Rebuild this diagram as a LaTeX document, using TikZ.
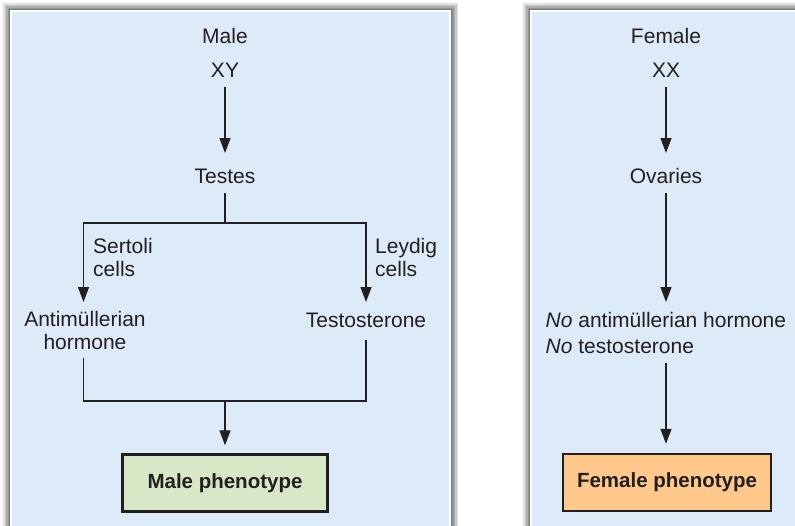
\documentclass[tikz,border=0pt]{standalone}
\usepackage{fontspec}
\setmainfont{Liberation Sans}
\usetikzlibrary{arrows.meta}
\definecolor{panelbg}{RGB}{221,234,247}
\definecolor{ink}{RGB}{35,31,32}
\definecolor{malefill}{RGB}{215,232,199}
\definecolor{femalefill}{RGB}{253,200,138}
\begin{document}
\begin{tikzpicture}[x=1pt,y=-1pt,
  lbl/.style={inner sep=0pt, font=\fontsize{21}{23}\selectfont, text=ink},
  ln/.style={line width=1.3pt, draw=ink},
  arr/.style={ln, -{Triangle[length=15pt,width=11pt]}},
  pheno/.style={draw=ink, line width=2.4pt, minimum width=205pt, minimum height=57pt,
    inner sep=0pt, font=\fontsize{20.5}{24}\selectfont\bfseries, text=ink}]
\useasboundingbox (0,0) rectangle (795,525);
\clip (0,0) rectangle (795,525);
% panels
\foreach \d/\c in {0/12,1.5/22,3/32,4.5/42,6/52} {
  \draw[line width=1.6pt, draw=black!\c] (3.8+\d,3.8+\d) rectangle (457.2-\d,600);
  \draw[line width=1.6pt, draw=black!\c] (523.8+\d,3.8+\d) rectangle (900,600);
}
\fill[white] (10,10) rectangle (451,600);
\fill[panelbg] (12,12) rectangle (449,600);
\fill[white] (530,10) rectangle (900,600);
\fill[panelbg] (532,12) rectangle (900,600);

% male side
\node[lbl, anchor=base] (male) at (225,43) {Male};
\node[lbl, anchor=base] (xy) at (225,77) {XY};
\node[lbl, anchor=base] (testes) at (225,183) {Testes};
\node[lbl, anchor=base west, align=left] (sertoli) at (93,276) {Sertoli\\cells};
\node[lbl, anchor=base west, align=left] (leydig) at (375,276) {Leydig\\cells};
\node[lbl, anchor=base, align=center] (amh) at (85,349) {Antimüllerian\\hormone};
\node[lbl, anchor=base] (testo) at (366,327) {Testosterone};
\node[pheno, fill=malefill] (malepheno) at (225,483) {Male phenotype};

\coordinate (split) at (225,223);
\coordinate (join) at (225,401);

\draw[arr] ([yshift=-10pt]xy.base) -- ([yshift=30pt]testes.base);
\draw[ln] ([yshift=-10pt]testes.base) -- (split);
\draw[arr] (split) -| ([xshift=-1.5pt,yshift=47pt]amh.base);
\draw[arr] (split) -| ([yshift=25pt]testo.base);
\draw[ln] ([xshift=-1.5pt,yshift=-9pt]amh.base) |- (join) -| ([yshift=-13pt]testo.base);
\draw[arr] (join) -- ([yshift=8pt]malepheno.north);

% female side
\node[lbl, anchor=base] (female) at (666,43) {Female};
\node[lbl, anchor=base] (xx) at (666,77) {XX};
\node[lbl, anchor=base] (ovaries) at (666,183) {Ovaries};
\node[lbl, font=\fontsize{21}{26}\selectfont, anchor=base west, align=left] (nohorm) at (545.5,353)
  {\textit{No} antimüllerian hormone\\\textit{No} testosterone};
\node[pheno, fill=femalefill, minimum width=208pt] (femalepheno) at (667,482.5) {Female phenotype};

\coordinate (nomid) at (ovaries.base |- nohorm.base);
\coordinate (fetop) at (ovaries.base |- femalepheno.north);

\draw[arr] ([yshift=-10pt]xx.base) -- ([yshift=30pt]ovaries.base);
\draw[arr] ([yshift=-10pt]ovaries.base) -- ([yshift=51pt]nomid);
\draw[arr] ([yshift=-10pt]nomid) -- ([yshift=9pt]fetop);
\end{tikzpicture}
\end{document}
